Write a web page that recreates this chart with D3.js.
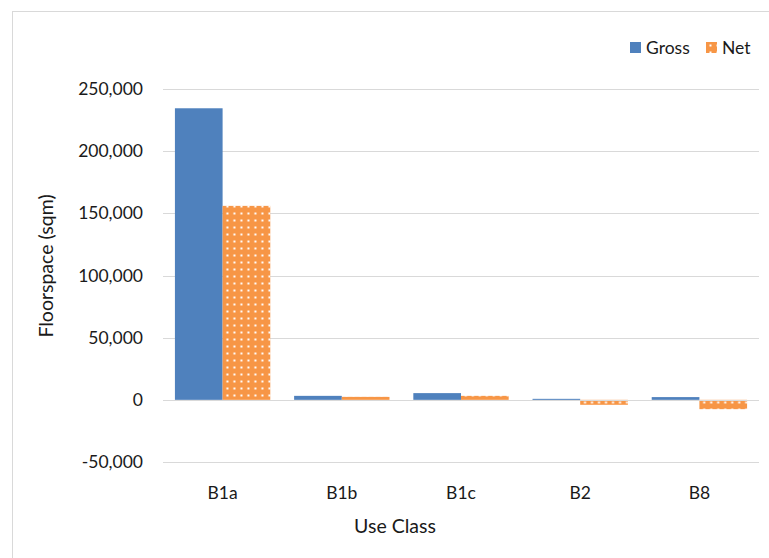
<!DOCTYPE html>
<html><head><meta charset="utf-8">
<script src="https://cdn.jsdelivr.net/npm/d3@7"></script>
<style>body{margin:0;background:#fff}svg{display:block;font-family:Lato,"Open Sans",sans-serif}</style>
</head><body><svg id="c" width="769" height="558"></svg>
<script>
const categories = ["B1a","B1b","B1c","B2","B8"];
const seriesNames = ["Gross","Net"];
const gross = [234500, 3200, 5400, 800, 2200];
const net = [156000, 2400, 3200, -4000, -7500];
const yTicks = [-50000, 0, 50000, 100000, 150000, 200000, 250000];
const colors = {Gross:"#4F81BD", Net:"#F79646"};

const svg = d3.select("#c");
const defs = svg.append("defs");
const pat = defs.append("pattern").attr("id","dots").attr("patternUnits","userSpaceOnUse")
  .attr("width",7).attr("height",7);
pat.append("rect").attr("width",7).attr("height",7).attr("fill",colors.Net);
pat.append("rect").attr("x",2.5).attr("y",2.5).attr("width",2).attr("height",2).attr("fill","#fff");

svg.append("rect").attr("x",12.5).attr("y",11.5).attr("width",800).attr("height",600)
  .attr("fill","#fff").attr("stroke","#d9d9d9").attr("stroke-width",1);

const left=163, right=759;
const y = d3.scaleLinear().domain([-50000,250000]).range([462,89]);
const x0 = d3.scaleBand().domain(categories).range([left,right]).paddingInner(0.2).paddingOuter(0.1);
const x1 = d3.scaleBand().domain(seriesNames).range([0,x0.bandwidth()]);

svg.append("g").selectAll("line").data(yTicks).join("line")
  .attr("x1",left).attr("x2",right).attr("y1",d=>Math.round(y(d))+0.5).attr("y2",d=>Math.round(y(d))+0.5)
  .attr("stroke","#d9d9d9").attr("stroke-width",1);

const fmt = d => d3.format(",")(d).replace("\u2212","-");
svg.append("g").selectAll("text").data(yTicks).join("text")
  .attr("x",143).attr("y",d=>y(d)).attr("dy","0.35em").attr("text-anchor","end")
  .attr("font-size",17.5).attr("fill","#1a1a1a").text(d=>fmt(d));

const data = categories.map((c,i)=>({c, vals:[{s:"Gross",v:gross[i]},{s:"Net",v:net[i]}]}));
const g = svg.append("g").selectAll("g").data(data).join("g").attr("transform",d=>`translate(${x0(d.c)},0)`);
g.selectAll("rect").data(d=>d.vals).join("rect")
  .attr("x",d=>x1(d.s)).attr("width",x1.bandwidth())
  .attr("y",d=>Math.min(y(d.v),y(0))).attr("height",d=>Math.max(1,Math.abs(y(d.v)-y(0))))
  .attr("fill",d=>d.s==="Gross"?colors.Gross:"url(#dots)");

svg.append("line").attr("x1",left).attr("x2",right).attr("y1",Math.round(y(0))+0.5).attr("y2",Math.round(y(0))+0.5)
  .attr("stroke","#d9d9d9");

svg.append("g").selectAll("text").data(categories).join("text")
  .attr("x",d=>x0(d)+x0.bandwidth()/2).attr("y",499).attr("text-anchor","middle")
  .attr("font-size",17.5).attr("fill","#1a1a1a").text(d=>d);

svg.append("text").attr("x",395).attr("y",533).attr("text-anchor","middle").attr("font-size",19.5).attr("fill","#1a1a1a").text("Use Class");
svg.append("text").attr("transform","translate(53,266) rotate(-90)").attr("text-anchor","middle")
  .attr("font-size",19.5).attr("fill","#1a1a1a").text("Floorspace (sqm)");

const lg = svg.append("g");
const items=[{s:"Gross",x:630},{s:"Net",x:706}];
lg.selectAll("rect").data(items).join("rect").attr("x",d=>d.x).attr("y",42).attr("width",11).attr("height",11)
  .attr("fill",d=>d.s==="Gross"?colors.Gross:"url(#dots)");
lg.selectAll("text").data(items).join("text").attr("x",d=>d.x+16).attr("y",48).attr("dy","0.35em")
  .attr("font-size",17.5).attr("fill","#1a1a1a").text(d=>d.s);
</script></body></html>
